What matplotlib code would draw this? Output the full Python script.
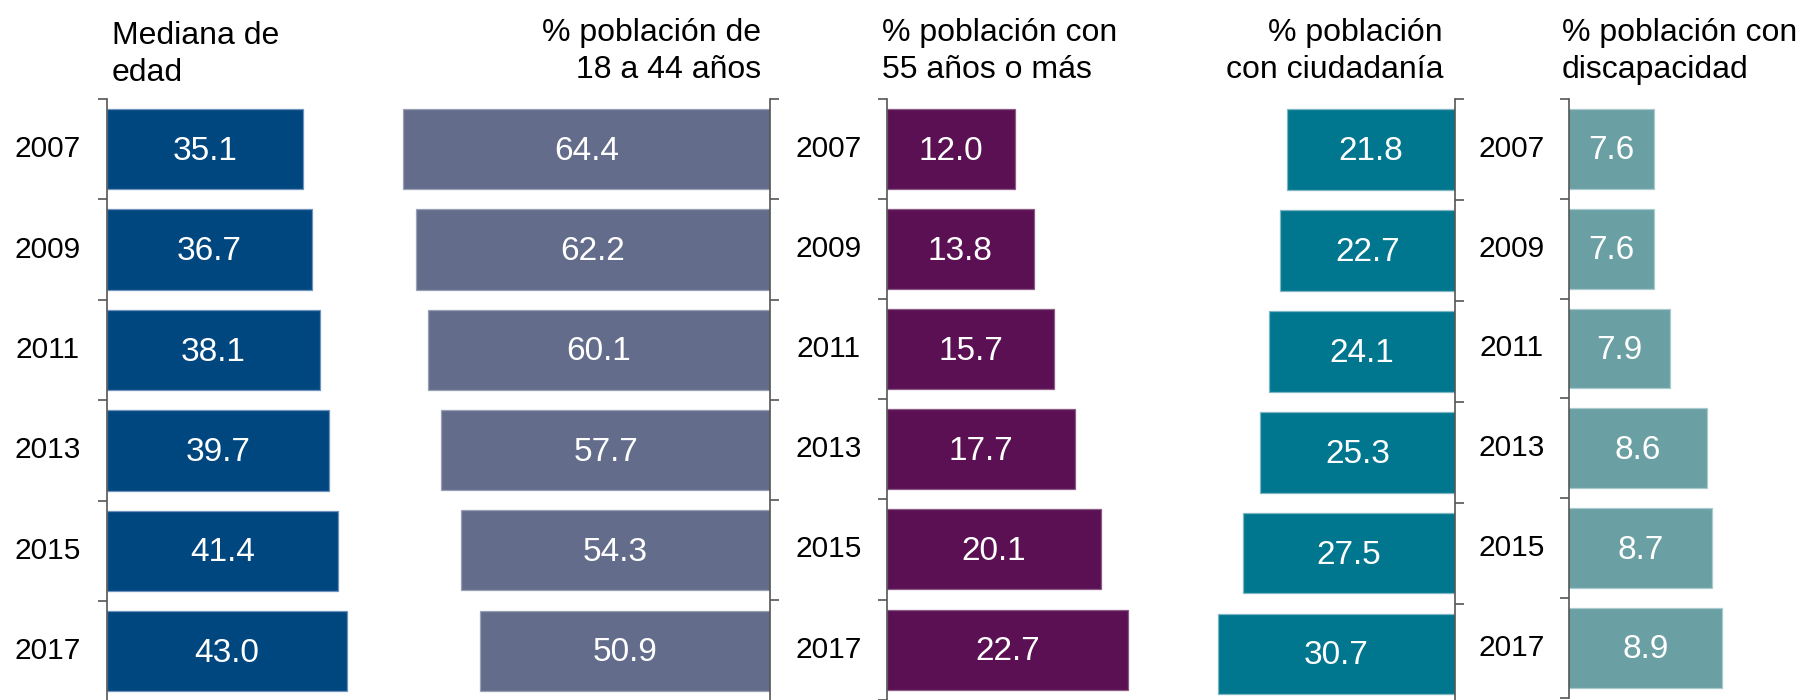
import matplotlib
matplotlib.use("Agg")
import matplotlib.pyplot as plt
import matplotlib.transforms as mtrans
import numpy as np

plt.rcParams['font.family'] = ['Liberation Sans', 'DejaVu Sans']

years = ["2007", "2009", "2011", "2013", "2015", "2017"]

mediana_edad = [35.1, 36.7, 38.1, 39.7, 41.4, 43.0]
pct_18_44 = [64.4, 62.2, 60.1, 57.7, 54.3, 50.9]
pct_55_mas = [12.0, 13.8, 15.7, 17.7, 20.1, 22.7]
pct_ciudadania = [21.8, 22.7, 24.1, 25.3, 27.5, 30.7]
pct_discapacidad = [7.6, 7.6, 7.9, 8.6, 8.7, 8.9]

W, H = 1800, 700
fig = plt.figure(figsize=(18, 7), dpi=100)

FS_TITLE = 23
FS_VAL = 24
FS_YEAR = 21.5
SPINE = '#555555'


def panel(vals, spine_x, scale, x0, x1, side, band, color, edge):
    # spine_x: pixel position of the value axis, scale: pixels per unit
    width = abs(x1 - x0) * scale
    left = spine_x if side == 'left' else spine_x - width
    top = 99
    height = 6 * band
    ax = fig.add_axes([left / W, 1 - (top + height) / H, width / W, height / H])
    y = np.arange(len(vals))
    ax.barh(y, vals, height=0.8, color=color, edgecolor=edge, linewidth=0.9)
    if side == 'left':
        ax.set_xlim(x0, x1)
    else:
        ax.set_xlim(x1, x0)
    ax.set_ylim(5.5, -0.5)
    for s in ['top', 'bottom', 'left', 'right']:
        ax.spines[s].set_visible(s == side)
    ax.spines[side].set_color(SPINE)
    ax.spines[side].set_linewidth(1.2)
    ax.set_xticks([])
    ax.set_yticks(np.arange(-0.5, 6, 1))
    ax.set_yticklabels([])
    if side == 'right':
        ax.yaxis.tick_right()
    ax.tick_params(axis='y', length=6.5, width=1.2, color=SPINE, direction='out')
    for i, v in enumerate(vals):
        ax.text((x0 + v) / 2, i + 0.02, f"{v:.1f}", color='white', fontsize=FS_VAL,
                ha='center', va='center')
    return ax


ax1 = panel(mediana_edad, 107, 5.58, 0, 50, 'left', 100.4, '#00467f', '#6f93bd')
ax2 = panel(pct_18_44, 770, 5.694, 0, 70, 'right', 100.3, '#636c8a', '#9aa1b7')
ax3 = panel(pct_55_mas, 887, 10.63, 0, 25, 'left', 100.1, '#5a1053', '#8c5a86')
ax4 = panel(pct_ciudadania, 1455, 7.72, 0, 35, 'right', 100.9, '#00768f', '#7fb6c3')
ax5 = panel(pct_discapacidad, 1569, 52.9, 6, 10, 'left', 99.8, '#6a9fa3', '#a9cbcd')

# year labels next to the value axes
for ax, xpix in [(ax1, 48), (ax3, 829), (ax5, 1512)]:
    tr = mtrans.blended_transform_factory(fig.transFigure, ax.transData)
    for i, yr in enumerate(years):
        ax.text(xpix / W, i, yr, transform=tr, fontsize=FS_YEAR, ha='center',
                va='center', color='black')

# panel titles (y is the baseline of the second line)
titles = [
    ("Mediana de\nedad", 112, 81, 'left'),
    ("% población de\n18 a 44 años", 761, 78, 'right'),
    ("% población con\n55 años o más", 882, 78, 'left'),
    ("% población\ncon ciudadanía", 1443, 78, 'right'),
    ("% población con\ndiscapacidad", 1562, 78, 'left'),
]
for txt, xpix, ypix, ha in titles:
    fig.text(xpix / W, 1 - ypix / H, txt, fontsize=FS_TITLE, ha=ha, va='baseline',
             multialignment=ha, linespacing=1.3, color='black')

fig.savefig("out.png", dpi=100)
